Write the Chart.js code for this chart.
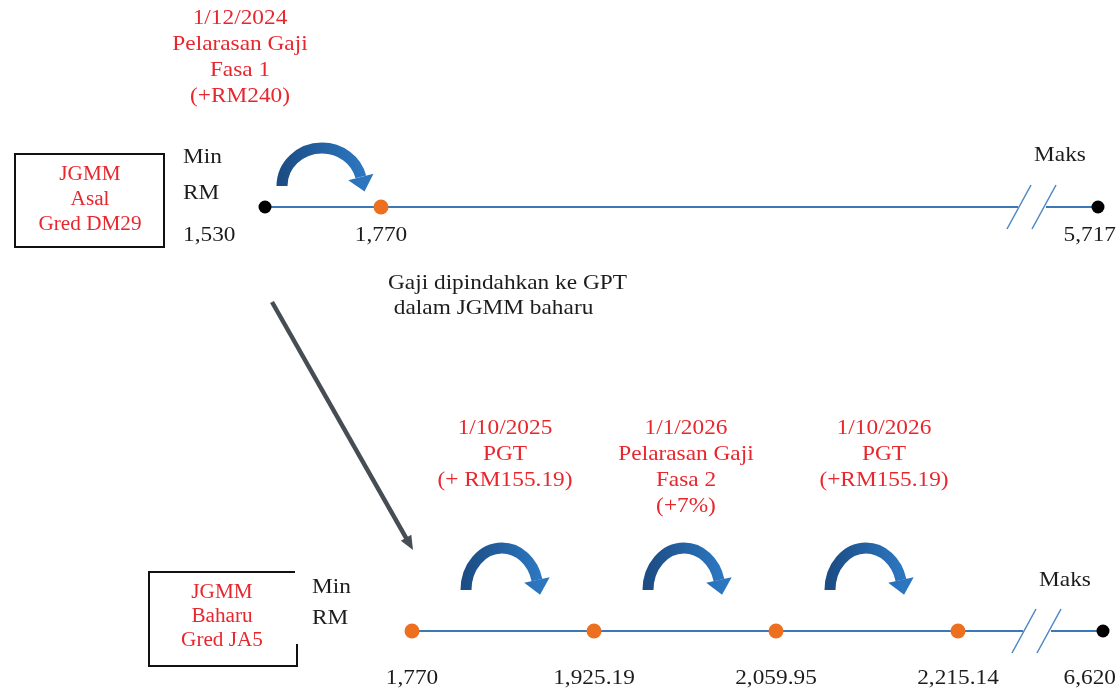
<!DOCTYPE html>
<html>
<head>
<meta charset="utf-8">
<script src="https://cdn.jsdelivr.net/npm/chart.js@4.4.0/dist/chart.umd.min.js"></script>
<style>
  body { margin: 0; background: #fff; }
  canvas { display: block; }
</style>
</head>
<body>
<canvas id="chart" width="1120" height="694"></canvas>
<script>
// salary stops (RM) on each scale, the last one is the maximum of the grade
const asalSalary = [1530, 1770, 5717];
const baharuSalary = [1770, 1925.19, 2059.95, 2215.14, 6620];

// what happens between two stops
const asalEvents = [['1/12/2024', 'Pelarasan Gaji', 'Fasa 1', '(+RM240)']];
const baharuEvents = [
  ['1/10/2025', 'PGT', '(+ RM155.19)'],
  ['1/1/2026', 'Pelarasan Gaji', 'Fasa 2', '(+7%)'],
  ['1/10/2026', 'PGT', '(+RM155.19)']
];
const gradeNames = [['JGMM', 'Asal', 'Gred DM29'], ['JGMM', 'Baharu', 'Gred JA5']];
const minLabels = ['Min', 'RM'];
const maxLabel = 'Maks';
const transferNote = ['Gaji dipindahkan ke GPT', ' dalam JGMM baharu'];

const W = 1120, H = 694;
const RED = '#e8262d', INK = '#1c1c1c', LINE = '#3b78b8', ORANGE = '#ed7021';
const FONT = '"Liberation Serif", "Times New Roman", serif';

// schematic layout of the two rows (not data)
const rows = [
  { startPx: 265, stepPx: 116, maxPx: 1098, labelDy: 28, eventDx: [-83], eventDy: -189, arrow: { rx: 40, ry: 38, dy: -21 } },
  { startPx: 412, stepPx: 182, maxPx: 1103, labelDy: 47, eventDx: [2, 1, 17], eventDy: -203, arrow: { rx: 36, ry: 42, dy: -41 } }
];

function stopPoints(values, row) {
  const lay = rows[row];
  const maxStop = (lay.maxPx - lay.startPx) / lay.stepPx;
  return values.map((v, i) => ({ x: i === values.length - 1 ? maxStop : i, y: row, v: v }));
}

function linePoints(values, row) {
  const lay = rows[row];
  const pts = stopPoints(values, row);
  const last = pts.pop();
  const cut1 = last.x - 80 / lay.stepPx, cut2 = last.x - 52 / lay.stepPx;
  return pts.concat([{ x: cut1, y: row }, { x: (cut1 + cut2) / 2, y: null }, { x: cut2, y: row }, last]);
}

function xScale(row) {
  const lay = rows[row];
  const min = -lay.startPx / lay.stepPx;
  return { type: 'linear', display: false, min: min, max: min + W / lay.stepPx };
}

function dotColor(row, n) {
  return ctx => (ctx.dataIndex === n - 1 || (row === 0 && ctx.dataIndex === 0)) ? '#000' : ORANGE;
}

function fmt(v) {
  return Number.isInteger(v) ? v.toLocaleString('en-US')
    : v.toLocaleString('en-US', { minimumFractionDigits: 2, maximumFractionDigits: 2 });
}

// the reference text is a little wider than Liberation Serif, so stretch it a bit
function txt(c, s, x, y, color, align, size) {
  c.save();
  c.font = (size || 22) + 'px ' + FONT;
  c.fillStyle = color;
  c.textAlign = align || 'center';
  c.textBaseline = 'middle';
  c.translate(x, y);
  c.scale(1.06, 1);
  c.fillText(s, 0, 0);
  c.restore();
}

function curvedArrow(c, cx, by, a) {
  const t = 11;
  const end = -0.24;
  const g = c.createLinearGradient(cx - a.rx, 0, cx + a.rx, 0);
  g.addColorStop(0, '#1c4d85');
  g.addColorStop(1, '#2c76c0');
  c.save();
  c.strokeStyle = g;
  c.fillStyle = g;
  c.lineWidth = t;
  c.lineCap = 'butt';
  c.beginPath();
  c.ellipse(cx, by, a.rx, a.ry, 0, Math.PI, 2 * Math.PI + end);
  c.stroke();
  // arrow head
  const px = cx + a.rx * Math.cos(end), py = by + a.ry * Math.sin(end);
  let tx = -a.rx * Math.sin(end), ty = a.ry * Math.cos(end);
  const len = Math.hypot(tx, ty);
  tx /= len; ty /= len;
  const nx = -ty, ny = tx;
  c.beginPath();
  c.moveTo(px + nx * 13, py + ny * 13);
  c.lineTo(px - nx * 13, py - ny * 13);
  c.lineTo(px + tx * 15, py + ty * 15);
  c.closePath();
  c.fill();
  c.restore();
}

function slash(c, x, y) {
  c.beginPath();
  c.moveTo(x - 12, y + 22);
  c.lineTo(x + 12, y - 22);
  c.stroke();
}

const diagram = {
  id: 'diagram',
  afterDraw(chart) {
    const c = chart.ctx;
    const ys = chart.scales.y;
    const xs = [chart.scales.xTop, chart.scales.xBot];
    const data = [asalSalary, baharuSalary];
    const events = [asalEvents, baharuEvents];
    const r0 = ys.getPixelForValue(0), r1 = ys.getPixelForValue(1);

    // grade boxes
    c.save();
    c.strokeStyle = '#111';
    c.lineWidth = 2;
    c.strokeRect(15, r0 - 53, 149, 93);
    c.beginPath();
    c.moveTo(297, r1 + 13);
    c.lineTo(297, r1 + 35);
    c.lineTo(149, r1 + 35);
    c.lineTo(149, r1 - 59);
    c.lineTo(295, r1 - 59);
    c.stroke();
    c.restore();
    gradeNames[0].forEach((s, i) => txt(c, s, 90, r0 - 32 + i * 25, RED, 'center', 20));
    gradeNames[1].forEach((s, i) => txt(c, s, 222, r1 - 38 + i * 24, RED, 'center', 20));

    // Min / RM column
    txt(c, minLabels[0], 183, r0 - 50, INK, 'left');
    txt(c, minLabels[1], 183, r0 - 14, INK, 'left');
    txt(c, minLabels[0], 312, r1 - 44, INK, 'left');
    txt(c, minLabels[1], 312, r1 - 13, INK, 'left');

    data.forEach((vals, row) => {
      const lay = rows[row];
      const sc = xs[row];
      const ry = ys.getPixelForValue(row);
      const pts = stopPoints(vals, row);
      // value labels
      pts.forEach((p, i) => {
        const px = sc.getPixelForValue(p.x);
        if (row === 0 && i === 0) txt(c, fmt(p.v), 183, ry + lay.labelDy, INK, 'left');
        else if (i === pts.length - 1) txt(c, fmt(p.v), W - 4, ry + lay.labelDy, INK, 'right');
        else txt(c, fmt(p.v), px, ry + lay.labelDy, INK, 'center');
      });
      const maxPx = sc.getPixelForValue(pts[pts.length - 1].x);
      txt(c, maxLabel, maxPx - 38, ry - 52 + row * 1, INK, 'center');
      // axis break
      c.save();
      c.strokeStyle = '#4a86c8';
      c.lineWidth = 1.5;
      slash(c, maxPx - 79, ry);
      slash(c, maxPx - 54, ry);
      c.restore();
      // step arrows and event text
      events[row].forEach((lines, k) => {
        const mid = (sc.getPixelForValue(k) + sc.getPixelForValue(k + 1)) / 2;
        curvedArrow(c, mid - 1, ry + lay.arrow.dy, lay.arrow);
        lines.forEach((s, j) => txt(c, s, mid + lay.eventDx[k], ry + lay.eventDy + j * 26, RED, 'center'));
      });
    });

    // transfer arrow
    const x0 = xs[0].getPixelForValue(0) + 7, y0 = r0 + 95;
    const x1 = xs[1].getPixelForValue(0) + 1, y1 = r1 - 81;
    const ang = Math.atan2(y1 - y0, x1 - x0);
    c.save();
    c.strokeStyle = '#474d55';
    c.fillStyle = '#474d55';
    c.lineWidth = 4.5;
    c.beginPath();
    c.moveTo(x0, y0);
    c.lineTo(x1 - 10 * Math.cos(ang), y1 - 10 * Math.sin(ang));
    c.stroke();
    c.beginPath();
    c.moveTo(x1, y1);
    c.lineTo(x1 - 14 * Math.cos(ang) + 6 * Math.sin(ang), y1 - 14 * Math.sin(ang) - 6 * Math.cos(ang));
    c.lineTo(x1 - 14 * Math.cos(ang) - 6 * Math.sin(ang), y1 - 14 * Math.sin(ang) + 6 * Math.cos(ang));
    c.closePath();
    c.fill();
    c.restore();
    txt(c, transferNote[0], 388, r0 + 76, INK, 'left', 22);
    txt(c, transferNote[1], 388, r0 + 101, INK, 'left', 22);
  }
};

const yMin = -207 / 424;

new Chart(document.getElementById('chart'), {
  type: 'scatter',
  data: {
    datasets: [
      { data: stopPoints(asalSalary, 0), xAxisID: 'xTop', pointRadius: ctx => ctx.dataIndex === 0 || ctx.dataIndex === asalSalary.length - 1 ? 6.5 : 7.5,
        pointBackgroundColor: dotColor(0, asalSalary.length), pointBorderWidth: 0, order: 0 },
      { data: stopPoints(baharuSalary, 1), xAxisID: 'xBot', pointRadius: ctx => ctx.dataIndex === baharuSalary.length - 1 ? 6.5 : 7.5,
        pointBackgroundColor: dotColor(1, baharuSalary.length), pointBorderWidth: 0, order: 0 },
      { data: linePoints(asalSalary, 0), xAxisID: 'xTop', showLine: true, spanGaps: false, pointRadius: 0,
        borderColor: LINE, borderWidth: 2, order: 1 },
      { data: linePoints(baharuSalary, 1), xAxisID: 'xBot', showLine: true, spanGaps: false, pointRadius: 0,
        borderColor: LINE, borderWidth: 2, order: 1 }
    ]
  },
  options: {
    responsive: false,
    animation: false,
    devicePixelRatio: 1,
    layout: { padding: 0, autoPadding: false },
    plugins: { legend: { display: false }, tooltip: { enabled: false } },
    scales: {
      xTop: xScale(0),
      xBot: xScale(1),
      y: { type: 'linear', display: false, reverse: true, min: yMin, max: yMin + H / 424 }
    }
  },
  plugins: [diagram]
});
</script>
</body>
</html>
